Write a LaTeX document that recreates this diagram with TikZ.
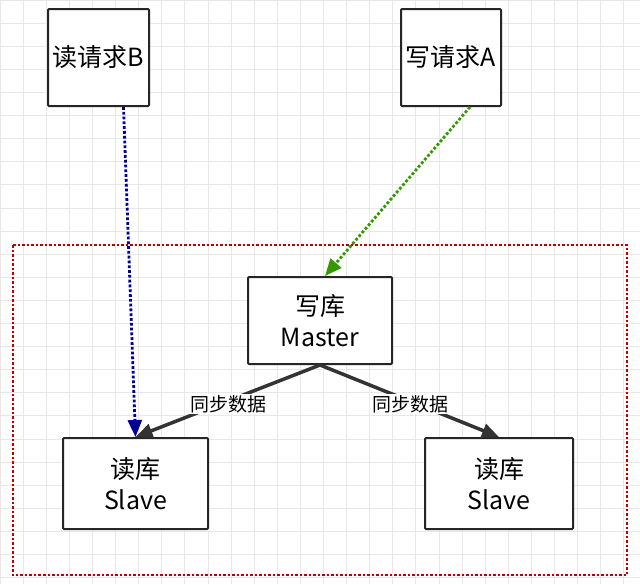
\documentclass[tikz,border=0pt]{standalone}
\usepackage{fontspec}
\setmainfont{Noto Sans CJK SC}
\usetikzlibrary{arrows.meta}
\begin{document}
\begin{tikzpicture}[x=1pt,y=-1pt,
  box/.style={draw=black!85,line width=2pt,fill=white,rounded corners=1pt,align=center,font=\fontsize{25}{31}\selectfont,inner sep=0pt},
  lab/.style={font=\fontsize{19}{22}\selectfont,fill=white,inner sep=1pt},
  tip/.style={-{Triangle[length=17pt,width=14pt]}}]
\useasboundingbox (0,0) rectangle (640,584);
\fill[white] (0,0) rectangle (640,584);
\foreach \i in {0,...,28} {\draw[black!9,line width=0.8pt] (\i*23.1,0) -- (\i*23.1,584);}
\foreach \i in {0,...,26} {\draw[black!9,line width=0.8pt] (0,\i*23.1) -- (640,\i*23.1);}
\draw[red!75!black,dotted,line width=2.5pt] (13,245) rectangle (627,575);
\node[box,minimum width=101pt,minimum height=97pt] (b) at (98.5,57.5) {读请求B};
\node[box,minimum width=100pt,minimum height=97pt] (a) at (451,57.5) {写请求A};
\node[box,minimum width=144pt,minimum height=87pt] (m) at (320,320.5) {写库\\Master};
\node[box,minimum width=145pt,minimum height=91pt] (s1) at (135.5,483.5) {读库\\Slave};
\node[box,minimum width=148pt,minimum height=91pt] (s2) at (499,483.5) {读库\\Slave};
\draw[tip,blue!60!black,dotted,line width=2.8pt] (b.south)+(25,0) -- (s1.north);
\draw[tip,green!50!black!80!yellow,dotted,line width=2.8pt] (a.south)+(19,0) -- ([xshift=5pt]m.north);
\draw[tip,black!80,line width=3.5pt] (m.south) -- (s1.north);
\draw[tip,black!80,line width=3.5pt] (m.south) -- (s2.north);
\node[lab] (l1) at (228,404) {同步数据};
\node[lab] (l2) at (410,404) {同步数据};
\end{tikzpicture}
\end{document}
